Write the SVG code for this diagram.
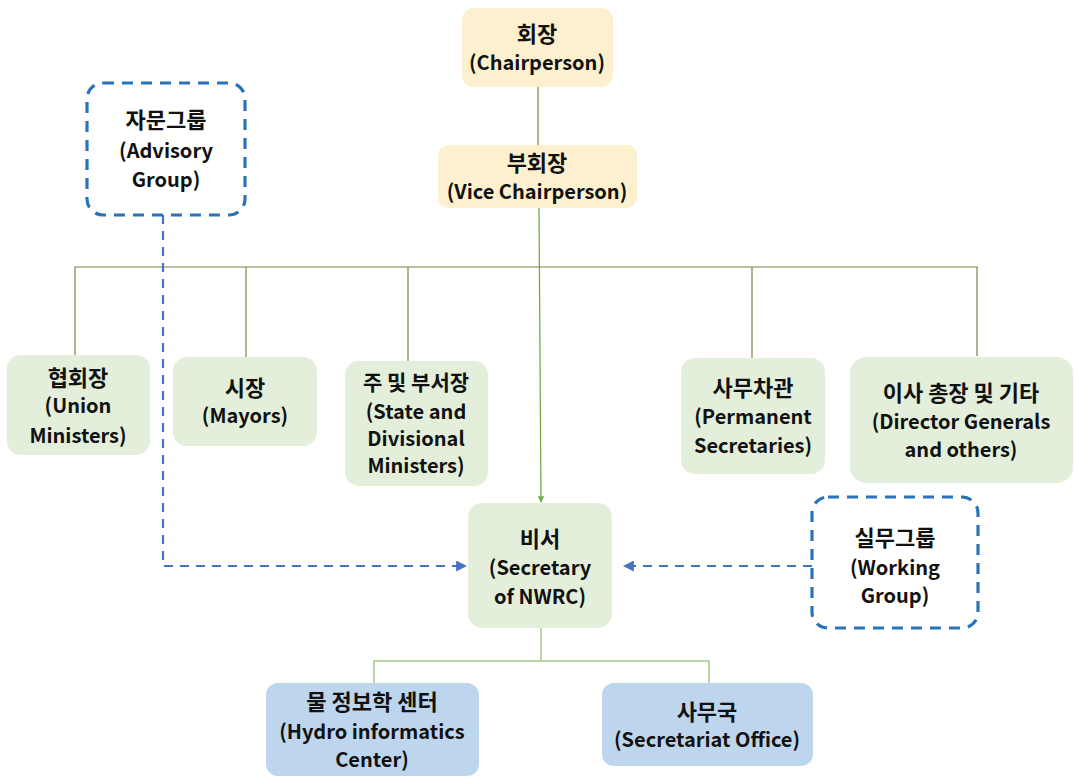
<svg xmlns="http://www.w3.org/2000/svg" width="1074" height="777" viewBox="0 0 1074 777">
<defs>
<style>
text{font-family:"Noto Sans CJK KR","Malgun Gothic",sans-serif;font-weight:bold;font-size:20px;fill:#111;text-anchor:middle}
text.k{font-size:22px}
text.ks{font-size:21px}
.y{fill:#FDF0CE}
.g{fill:#E3EFDA}
.b{fill:#BDD6EE}
.dbox{fill:#fff;stroke:#2A73B8;stroke-width:3.2;stroke-dasharray:11 8}
.bus{stroke:#808048;stroke-width:1.2;fill:none}
.lg{stroke:#A8C98C;stroke-width:1.5;fill:none}
.dash{stroke:#4472C4;stroke-width:2.2;stroke-dasharray:9 7;fill:none}
</style>
<marker id="ag" viewBox="0 0 10 10" refX="9" refY="5" markerWidth="5" markerHeight="5" orient="auto"><path d="M0,0L10,5L0,10z" fill="#70AD47"/></marker>
<marker id="ab" viewBox="0 0 10 10" refX="9" refY="5" markerWidth="5" markerHeight="5" orient="auto"><path d="M0,0L10,5L0,10z" fill="#4472C4"/></marker>
</defs>
<rect width="1074" height="777" fill="#fff"/>
<g id="connectors">
<line class="bus" x1="538" y1="87" x2="538" y2="145"/>
<line x1="539" y1="208" x2="541" y2="502" stroke="#70AD47" stroke-width="1.3" marker-end="url(#ag)"/>
<polyline class="bus" points="75,356 75,267 977,267 977,356"/>
<line class="bus" x1="246" y1="267" x2="246" y2="357"/>
<line class="bus" x1="408" y1="267" x2="408" y2="361"/>
<line class="bus" x1="752" y1="267" x2="752" y2="358"/>
<polyline class="dash" points="163,215 163,566 466,566" marker-end="url(#ab)"/>
<line class="dash" x1="812" y1="566" x2="624" y2="566" marker-end="url(#ab)"/>
<line class="lg" x1="541" y1="628" x2="541" y2="661"/>
<polyline class="lg" points="374,683 374,661 709,661 709,683"/>
</g>
<g id="chair"><rect class="y" x="462" y="8" width="151" height="79" rx="12"/><text class="k" x="537" y="42">회장</text><text x="537" y="70">(Chairperson)</text></g>
<g id="vice"><rect class="y" x="438" y="145" width="199" height="63" rx="10"/><text class="k" x="537" y="171">부회장</text><text x="537" y="199">(Vice Chairperson)</text></g>
<g id="advisory"><rect class="dbox" x="87" y="83" width="158" height="132" rx="16"/><text class="k" x="166" y="128">자문그룹</text><text x="166" y="158">(Advisory</text><text x="166" y="187">Group)</text></g>
<g id="union"><rect class="g" x="7" y="355" width="143" height="100" rx="14"/><text class="k" x="78" y="386">협회장</text><text x="78" y="413">(Union</text><text x="78" y="443">Ministers)</text></g>
<g id="mayors"><rect class="g" x="173" y="357" width="144" height="89" rx="14"/><text class="k" x="245" y="396">시장</text><text x="245" y="423">(Mayors)</text></g>
<g id="state"><rect class="g" x="345" y="361" width="143" height="125" rx="14"/><text class="ks" x="416" y="390">주 및 부서장</text><text x="416" y="419">(State and</text><text x="416" y="446">Divisional</text><text x="416" y="473">Ministers)</text></g>
<g id="permanent"><rect class="g" x="681" y="358" width="144" height="116" rx="14"/><text class="k" x="753" y="396">사무차관</text><text x="753" y="424">(Permanent</text><text x="753" y="453">Secretaries)</text></g>
<g id="director"><rect class="g" x="850" y="357" width="223" height="126" rx="16"/><text class="k" x="961" y="401">이사 총장 및 기타</text><text x="961" y="429">(Director Generals</text><text x="961" y="457">and others)</text></g>
<g id="secretary"><rect class="g" x="468" y="503" width="144" height="125" rx="14"/><text class="k" x="540" y="547">비서</text><text x="540" y="575">(Secretary</text><text x="540" y="604">of NWRC)</text></g>
<g id="working"><rect class="dbox" x="812" y="497" width="166" height="131" rx="16"/><text class="k" x="895" y="546">실무그룹</text><text x="895" y="575">(Working</text><text x="895" y="603">Group)</text></g>
<g id="hydro"><rect class="b" x="266" y="683" width="213" height="93" rx="12"/><text class="k" x="372" y="710">물 정보학 센터</text><text x="372" y="739">(Hydro informatics</text><text x="372" y="767">Center)</text></g>
<g id="office"><rect class="b" x="602" y="683" width="211" height="83" rx="12"/><text class="k" x="707" y="720">사무국</text><text x="707" y="747">(Secretariat Office)</text></g>
</svg>
